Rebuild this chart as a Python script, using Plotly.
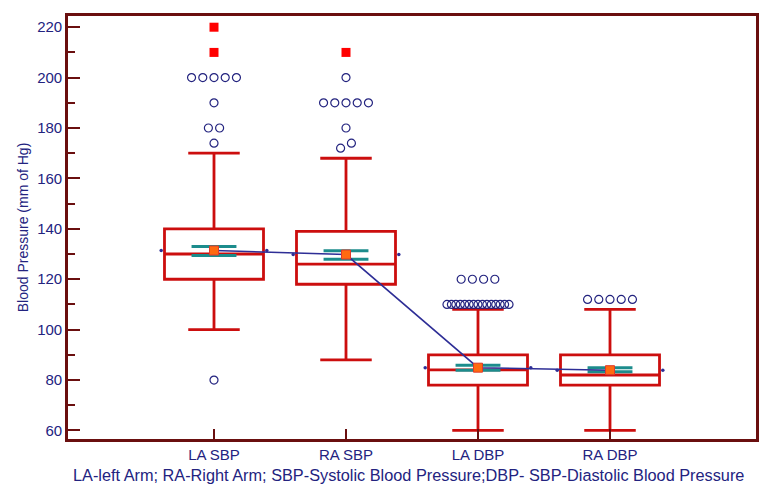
import plotly.graph_objects as go
import numpy as np

categories = ["LA SBP", "RA SBP", "LA DBP", "RA DBP"]
q1 = [120, 118, 78, 78]
median = [130, 126, 84, 82]
q3 = [140, 139, 90, 90]
whisker_low = [100, 88, 60, 60]
whisker_high = [170, 168, 108, 108]
means = [131.4, 129.8, 84.9, 83.9]
ci_low = [129.4, 127.9, 83.9, 83.3]
ci_high = [133.0, 131.3, 85.9, 84.9]

outliers = [
    [200, 200, 200, 200, 200, 190, 180, 180, 174, 80],
    [200, 190, 190, 190, 190, 190, 180, 174, 172],
    [120, 120, 120, 120] + [110] * 15,
    [112, 112, 112, 112, 112],
]
far_outliers = [[220, 210], [210], [], []]

y_title = "Blood Pressure (mm of Hg)"
note = "LA-left Arm; RA-Right Arm; SBP-Systolic Blood Pressure;DBP- SBP-Diastolic Blood Pressure"

NAVY = "#23237F"
RED = "#CC0E0E"
FRAME = "#6A0F0F"
TEAL = "#1C8C8C"
ORANGE = "#FF6A10"
FONT = "Liberation Sans, Arial, sans-serif"

pos = list(range(len(categories)))
BOX_W = 0.75


def jitter(values, center, spacing=0.085, max_width=0.47):
    vals = sorted(values)
    clusters = []
    for v in vals:
        if clusters and abs(v - clusters[-1][-1]) <= 2.5:
            clusters[-1].append(v)
        else:
            clusters.append([v])
    xs, ys = [], []
    for c in clusters:
        n = len(c)
        sp = spacing if n < 2 else min(spacing, max_width / (n - 1))
        if len(set(c)) > 1 and n == 2:
            sp = 0.082
        for i, v in enumerate(c):
            xs.append(center + (i - (n - 1) / 2) * sp)
            ys.append(v)
    return xs, ys


fig = go.Figure()

fig.add_trace(go.Box(
    x=pos, q1=q1, median=median, q3=q3,
    lowerfence=whisker_low, upperfence=whisker_high,
    width=BOX_W, whiskerwidth=0.52,
    line=dict(color=RED, width=2.8),
    fillcolor="rgba(0,0,0,0)",
    boxpoints=False, hoverinfo="skip", showlegend=False,
))

ox, oy = [], []
for i, vals in enumerate(outliers):
    xs, ys = jitter(vals, pos[i])
    ox += xs
    oy += ys
fig.add_trace(go.Scatter(
    x=ox, y=oy, mode="markers",
    marker=dict(symbol="circle-open", size=8, color=NAVY, line=dict(width=1.2, color=NAVY)),
    showlegend=False, hoverinfo="skip",
))

fx, fy = [], []
for i, vals in enumerate(far_outliers):
    for v in vals:
        fx.append(pos[i])
        fy.append(v)
fig.add_trace(go.Scatter(
    x=fx, y=fy, mode="markers",
    marker=dict(symbol="square", size=9, color="#FF0000"),
    showlegend=False, hoverinfo="skip",
))

# confidence interval lines
cx, cy = [], []
for i in pos:
    for v in (ci_low[i], ci_high[i]):
        cx += [i - 0.17, i + 0.17, None]
        cy += [v, v, None]
fig.add_trace(go.Scatter(
    x=cx, y=cy, mode="lines", line=dict(color=TEAL, width=3),
    showlegend=False, hoverinfo="skip",
))

# mean connection line
fig.add_trace(go.Scatter(
    x=pos, y=means, mode="lines", line=dict(color="#2E2E96", width=1.6),
    showlegend=False, hoverinfo="skip",
))
sx, sy = [], []
for i in pos:
    sx += [i - 0.4, i + 0.4]
    sy += [means[i], means[i]]
fig.add_trace(go.Scatter(
    x=sx, y=sy, mode="markers",
    marker=dict(symbol="circle", size=3.5, color="#2E2E96"),
    showlegend=False, hoverinfo="skip",
))

fig.add_trace(go.Scatter(
    x=pos, y=means, mode="markers",
    marker=dict(symbol="square", size=9, color=ORANGE, line=dict(color="#E03A2A", width=1)),
    showlegend=False, hoverinfo="skip",
))

fig.update_layout(
    width=761, height=485,
    margin=dict(l=60, r=13, t=5, b=54),
    paper_bgcolor="white", plot_bgcolor="white",
    font=dict(family=FONT, color=NAVY, size=15),
    showlegend=False,
)
fig.update_xaxes(
    range=[-1.106, 4.106], tickvals=pos, ticktext=categories,
    showgrid=False, zeroline=False,
    showline=True, linecolor=FRAME, linewidth=2.6, mirror=True,
    ticks="inside", ticklen=10, tickwidth=2, tickcolor=FRAME,
    tickfont=dict(size=15, color=NAVY),
)
fig.update_yaxes(
    range=[56.6, 224.45], tick0=60, dtick=20,
    showgrid=False, zeroline=False,
    showline=True, linecolor=FRAME, linewidth=2.6, mirror=True,
    ticks="inside", ticklen=12, tickwidth=2, tickcolor=FRAME,
    minor=dict(dtick=10, tick0=60, ticks="inside", ticklen=7, tickwidth=1.5, tickcolor=FRAME, showgrid=False),
    tickfont=dict(size=15, color=NAVY),
    title=dict(text=y_title, font=dict(size=14, color=NAVY), standoff=6),
)
fig.add_annotation(
    text=note, xref="paper", yref="paper", x=0.495, y=-0.058,
    xanchor="center", yanchor="top", showarrow=False,
    font=dict(size=16.3, color=NAVY, family=FONT),
)

fig.write_html("out.html")
